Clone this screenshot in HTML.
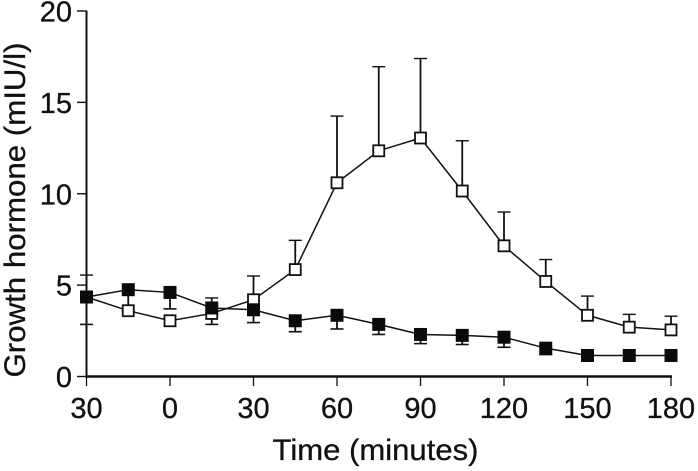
<!DOCTYPE html>
<html lang="en">
<head>
<meta charset="utf-8">
<title>Growth hormone over time</title>
<style>
html,body{margin:0;padding:0;background:#fff;}
svg{display:block;}
text{font-family:"Liberation Sans",sans-serif;fill:#111;stroke:#111;stroke-width:0.3px;}
</style>
</head>
<body>
<svg id="chart" width="698" height="471" viewBox="0 0 698 471" xmlns="http://www.w3.org/2000/svg"></svg>
<script>
const times = [-30,-15,0,15,30,45,60,75,90,105,120,135,150,165,180];
const openMean = [4.35,3.6,3.05,3.45,4.2,5.85,10.6,12.35,13.05,10.15,7.15,5.2,3.35,2.7,2.55];
const openUpper = [5.55,3.6,3.05,4.3,5.5,7.45,14.25,16.95,17.4,12.9,9.0,6.4,4.4,3.4,3.3];
const filledMean = [4.35,4.75,4.6,3.75,3.65,3.05,3.35,2.85,2.3,2.25,2.15,1.55,1.15,1.15,1.15];
const filledLower = [2.85,3.6,3.7,2.85,2.95,2.45,2.6,2.3,1.8,1.75,1.6,1.2,1.0,0.95,0.85];
const xTickValues = [-30,0,30,60,90,120,150,180];
const xTickLabels = ["30","0","30","60","90","120","150","180"];
const yTickValues = [0,5,10,15,20];

const NS = "http://www.w3.org/2000/svg";
const svg = document.getElementById("chart");
const xScale = t => 86.5 + (t + 30) * (584.5 / 210);
const yScale = v => 376.5 - v * (365.5 / 20);

function make(tag, attrs, name) {
  const el = document.createElementNS(NS, tag);
  for (const k in attrs) el.setAttribute(k, attrs[k]);
  
  
  svg.appendChild(el);
  return el;
}
function seg(x1, y1, x2, y2, w, name) {
  return make("line", {x1, y1, x2, y2, stroke: "#111", "stroke-width": w}, name);
}

// axes
seg(86.5, 10.5, 86.5, 377, 2, "y-axis-line");
seg(85.5, 376.5, xScale(180) + 1, 376.5, 2.4, "x-axis-line");
yTickValues.forEach(v => {
  seg(77, yScale(v), 86, yScale(v), 1.4, "y-axis-tick");
  const t = make("text", {x: 72, y: yScale(v) + 10.5, "font-size": 29, "text-anchor": "end"}, "y-axis-tick-label");
  t.textContent = v;
});
xTickValues.forEach((v, i) => {
  seg(xScale(v), 377, xScale(v), 386, 1.3, "x-axis-tick");
  const t = make("text", {x: xScale(v), y: 418, "font-size": 29, "text-anchor": "middle"}, "x-axis-tick-label");
  t.textContent = xTickLabels[i];
});

// error bars
times.forEach((t, i) => {
  const x = xScale(t);
  if (openUpper[i] > openMean[i]) {
    seg(x, yScale(openMean[i]), x, yScale(openUpper[i]), 1.8, "open-series-error-bar");
    seg(x - 6.5, yScale(openUpper[i]), x + 6.5, yScale(openUpper[i]), 1.4, "open-series-error-cap");
  }
  if (filledLower[i] < filledMean[i]) {
    seg(x, yScale(filledMean[i]), x, yScale(filledLower[i]), 1.8, "filled-series-error-bar");
    seg(x - 6.5, yScale(filledLower[i]), x + 6.5, yScale(filledLower[i]), 1.6, "filled-series-error-cap");
  }
});

// series lines
function polyPoints(values) {
  return values.map((v, i) => xScale(times[i]) + "," + yScale(v)).join(" ");
}
make("polyline", {points: polyPoints(openMean), fill: "none", stroke: "#111", "stroke-width": 1.5}, "open-series-line");
make("polyline", {points: polyPoints(filledMean), fill: "none", stroke: "#111", "stroke-width": 1.5}, "filled-series-line");

// markers
openMean.forEach((v, i) => {
  make("rect", {x: xScale(times[i]) - 5.5, y: yScale(v) - 5.5, width: 11, height: 11, fill: "#fff", stroke: "#111", "stroke-width": 1.8}, "open-series-marker");
});
filledMean.forEach((v, i) => {
  make("rect", {x: xScale(times[i]) - 6.5, y: yScale(v) - 6.5, width: 13, height: 13, fill: "#0a0a0a"}, "filled-series-marker");
});

// axis titles
const xTitle = make("text", {x: 375.5, y: 460, "font-size": 30, "text-anchor": "middle", textLength: 206, lengthAdjust: "spacingAndGlyphs"}, "x-axis-title");
xTitle.textContent = "Time (minutes)";
const yTitle = make("text", {x: 0, y: 0, transform: "translate(25,210) rotate(-90)", "font-size": 30, "text-anchor": "middle", textLength: 335, lengthAdjust: "spacingAndGlyphs"}, "y-axis-title");
yTitle.textContent = "Growth hormone (mIU/l)";
</script>
</body>
</html>
